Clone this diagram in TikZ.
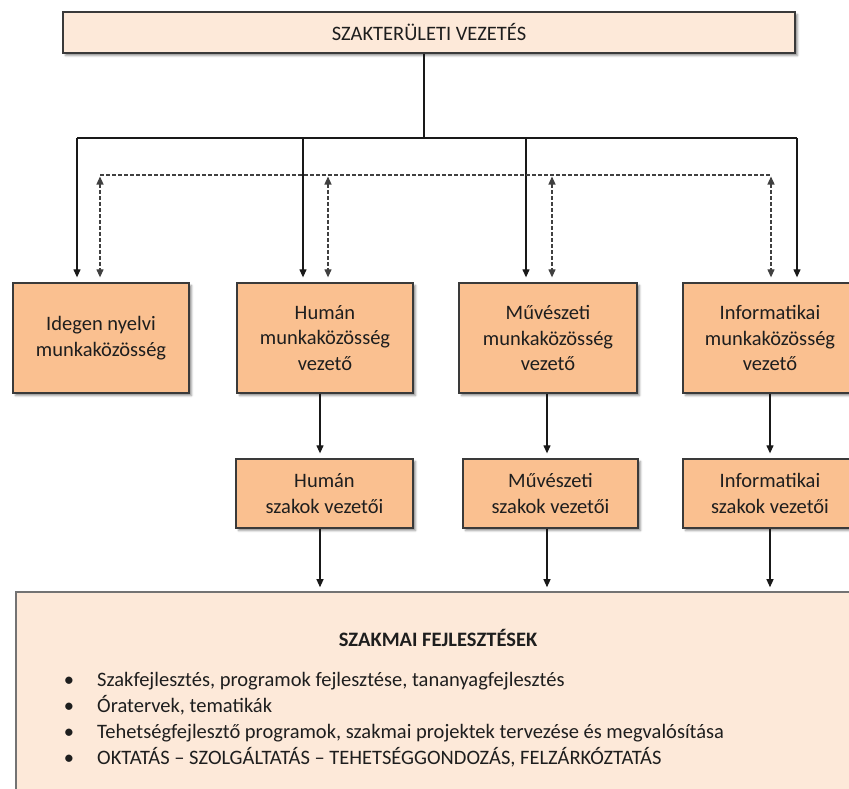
\documentclass[tikz,border=0pt]{standalone}
\usepackage{fontspec}
\setmainfont{Carlito}
\usetikzlibrary{arrows.meta,shadows.blur}
\definecolor{lightpeach}{HTML}{FDE9D9}
\definecolor{peach}{HTML}{FAC090}
\definecolor{boxline}{HTML}{3A3A3A}
\definecolor{txt}{HTML}{1E1E1E}
\tikzset{
  shadowed/.style={blur shadow={shadow xshift=2.5pt,shadow yshift=-2.5pt,shadow blur radius=2pt,shadow opacity=45}},
  topbox/.style={draw=boxline,line width=1.4pt,fill=lightpeach,shadowed,minimum width=732pt,minimum height=41pt,inner sep=0pt},
  midbox/.style={draw=boxline,line width=1.3pt,fill=peach,shadowed,align=center,minimum height=110pt,inner sep=0pt},
  smallbox/.style={draw=boxline,line width=1.3pt,fill=peach,shadowed,align=center,minimum height=69pt,inner sep=0pt},
  bigbox/.style={draw=black!55,line width=1.6pt,fill=lightpeach,inner sep=0pt},
  txtfont/.style={font=\fontsize{20.5}{25.5}\selectfont,text=txt},
  conn/.style={line width=1.2pt,draw=black!90,-{Triangle[length=8pt,width=7pt]}},
  plain/.style={line width=1.2pt,draw=black!90},
  dashline/.style={line width=1.2pt,draw=black!75,dash pattern=on 3.5pt off 2.5pt},
  dasharrow/.style={dashline,{Triangle[length=8pt,width=7pt]}-{Triangle[length=8pt,width=7pt]}},
  bulletnode/.style={anchor=base,inner sep=0pt,font=\fontsize{20.5}{24}\selectfont,text=txt},
  itemnode/.style={anchor=base west,inner sep=0pt,font=\fontsize{20.5}{24}\selectfont,text=txt},
}
\begin{document}
\begin{tikzpicture}[x=1pt,y=-1pt]
\useasboundingbox (0,0) rectangle (849,788);
\clip (0,0) rectangle (849,788);
% boxes
\node[topbox,txtfont] (top) at (429,32.5) {SZAKTERÜLETI VEZETÉS};
\node[midbox,txtfont,minimum width=176pt] (A) at (101,338) {Idegen nyelvi\\munkaközösség};
\node[midbox,txtfont,minimum width=176pt] (B) at (325,338) {Humán\\munkaközösség\\vezető};
\node[midbox,txtfont,minimum width=178pt] (C) at (548,338) {Művészeti\\munkaközösség\\vezető};
\node[midbox,txtfont,minimum width=174pt] (D) at (770,338) {Informatikai\\munkaközösség\\vezető};
\node[smallbox,txtfont,minimum width=177pt] (B2) at (324.5,493.5) {Humán\\szakok vezetői};
\node[smallbox,txtfont,minimum width=175pt] (C2) at (550.5,493.5) {Művészeti\\szakok vezetői};
\node[smallbox,txtfont,minimum width=174pt] (D2) at (770,493.5) {Informatikai\\szakok vezetői};
\node[bigbox,minimum width=846pt,minimum height=210pt] (E) at (439,697) {};
% bottom text
\node[anchor=base,inner sep=0pt,font=\bfseries\fontsize{20.5}{24}\selectfont,text=txt] (Etitle) at (438,646.5) {SZAKMAI FEJLESZTÉSEK};
\node[bulletnode] (b1) at (69,686) {•};
\node[itemnode] (i1) at (97,686) {Szakfejlesztés, programok fejlesztése, tananyagfejlesztés};
\node[bulletnode] (b2) at (69,712) {•};
\node[itemnode] (i2) at (97,712) {Óratervek, tematikák};
\node[bulletnode] (b3) at (69,738) {•};
\node[itemnode] (i3) at (97,738) {Tehetségfejlesztő programok, szakmai projektek tervezése és megvalósítása};
\node[bulletnode] (b4) at (69,764) {•};
\node[itemnode] (i4) at (97,764) {OKTATÁS – SZOLGÁLTATÁS – TEHETSÉGGONDOZÁS, FELZÁRKÓZTATÁS};
% solid tree
\coordinate (j) at (424,138);
\coordinate (jA) at (77,138);
\coordinate (jB) at (303,138);
\coordinate (jC) at (526,138);
\coordinate (jD) at (797,138);
\draw[plain] (top.south -| j) -- (j);
\draw[plain] (jA) -- (jD);
\draw[conn,shorten >=5pt] (jA) -- (A.north -| jA);
\draw[conn,shorten >=5pt] (jB) -- (B.north -| jB);
\draw[conn,shorten >=5pt] (jC) -- (C.north -| jC);
\draw[conn,shorten >=5pt] (jD) -- (D.north -| jD);
% dashed
\coordinate (dA) at (100,175);
\coordinate (dB) at (328,175);
\coordinate (dC) at (552,175);
\coordinate (dD) at (771,175);
\draw[dashline] (dA) -- (dD);
\draw[dasharrow,shorten <=1.5pt,shorten >=5pt] (dA) -- (A.north -| dA);
\draw[dasharrow,shorten <=1.5pt,shorten >=5pt] (dB) -- (B.north -| dB);
\draw[dasharrow,shorten <=1.5pt,shorten >=5pt] (dC) -- (C.north -| dC);
\draw[dasharrow,shorten <=1.5pt,shorten >=5pt] (dD) -- (D.north -| dD);
% lower arrows
\coordinate (kB) at (320,0);
\coordinate (kC) at (547,0);
\coordinate (kD) at (770,0);
\draw[conn,shorten >=5pt] (B.south -| kB) -- (B2.north -| kB);
\draw[conn,shorten >=5pt] (C.south -| kC) -- (C2.north -| kC);
\draw[conn,shorten >=5pt] (D.south -| kD) -- (D2.north -| kD);
\draw[conn,shorten >=4pt] (B2.south -| kB) -- (E.north -| kB);
\draw[conn,shorten >=4pt] (C2.south -| kC) -- (E.north -| kC);
\draw[conn,shorten >=4pt] (D2.south -| kD) -- (E.north -| kD);
\end{tikzpicture}
\end{document}
